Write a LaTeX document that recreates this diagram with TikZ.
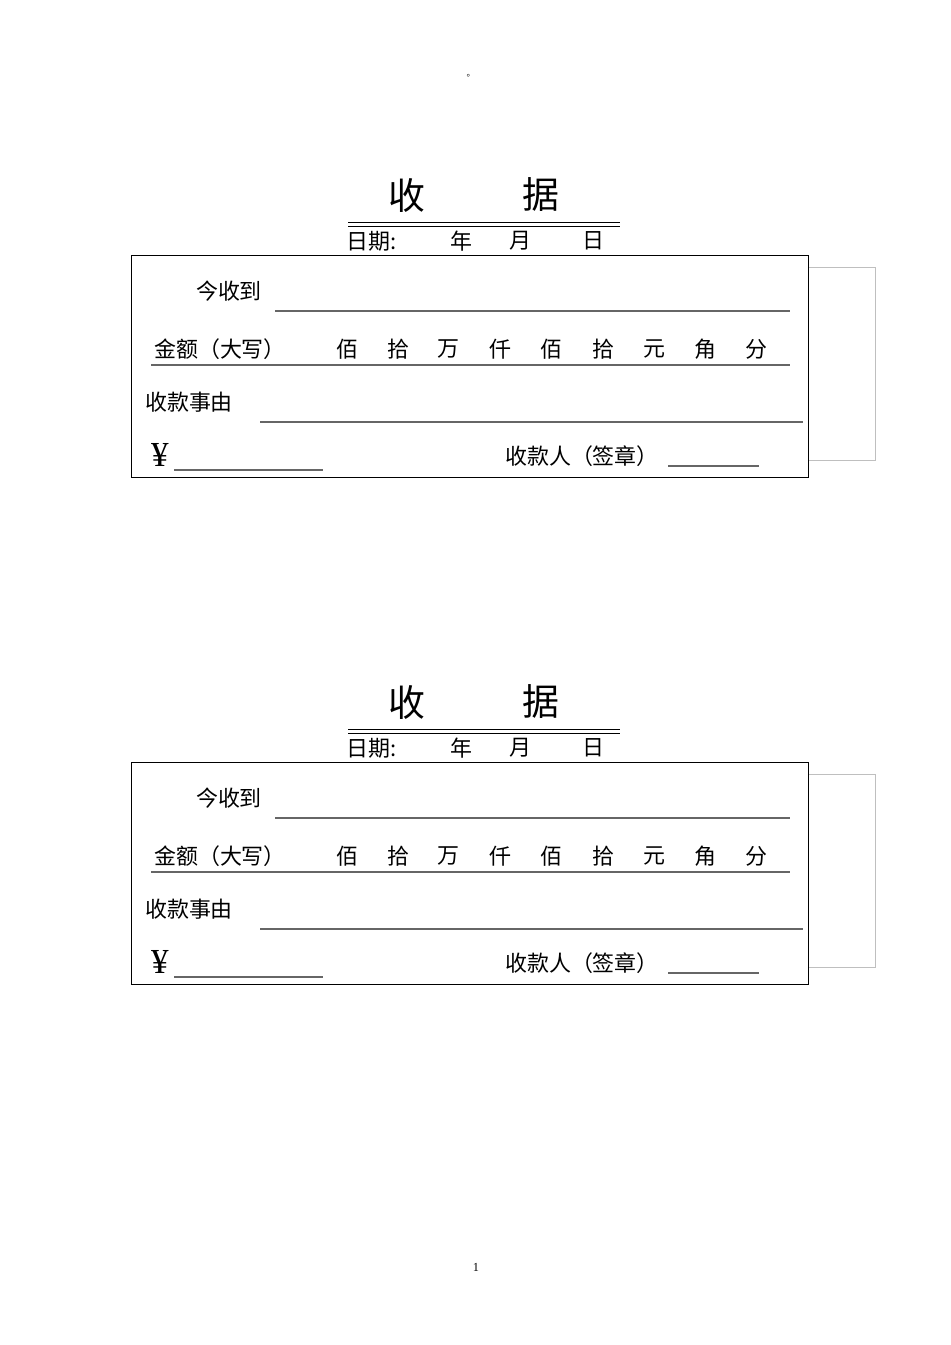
\documentclass[tikz,border=0pt]{standalone}
\usepackage{fontspec}
\setmainfont{Liberation Serif}
\newfontfamily\cjk{Noto Sans CJK SC}
\usetikzlibrary{positioning}
\tikzset{
  txt/.style={inner sep=0pt, font=\cjk\fontsize{12.5}{12.5}\selectfont},
  titel/.style={inner sep=0pt, font=\cjk\fontsize{21}{21}\selectfont},
  fillline/.style={draw=black!60, line width=0.7pt}
}
\begin{document}
\begin{tikzpicture}[x=0.02cm,y=-0.02cm]
\useasboundingbox (0,0) rectangle (950,1345);
\node[inner sep=0pt, font=\cjk\tiny] (dot) at (471,76) {。};
\node[inner sep=0pt, font=\scriptsize] (pnum) at (476,1267) {1};

\foreach \dy in {0,507} %zwei quittungen
{
\begin{scope}[yshift=-\dy*0.02cm]
\node[titel] (shou) at (407,195) {收};
\node[titel] (ju) at (541,195) {据};
\draw (348,222) -- (620,222);
\draw (348,226) -- (620,226);
\node[txt] (riqi) at (372,241) {日期:};
\node[txt] (nian) at (461,241) {年};
\node[txt] (yue) at (520,241) {月};
\node[txt] (ri) at (593,241) {日};

\draw[black!25] (802,267) rectangle (875,460);
\draw[fill=white] (131,255) rectangle (808,477);

\node[txt] (jin) at (229,291) {今收到};
\draw[fillline] (275,311) -- (790,311);

\node[txt] (jine) at (220,349) {金额（大写）};
\foreach \u/\x in {佰/347,拾/398,万/448,仟/500,佰/551,拾/603,元/654,角/705,分/756}
  \node[txt] (unit\x) at (\x,349) {\u};
\draw[fillline] (151,365) -- (790,365);

\node[txt] (grund) at (189,402) {收款事由};
\draw[fillline] (260,422) -- (803,422);

\node[inner sep=0pt, font=\fontsize{20}{20}\selectfont] (yen) at (160,455) {¥};
\draw[fillline] (174,470) -- (323,470);
\node[txt] (empf) at (582,456) {收款人（签章）};
\draw[fillline] (668,466) -- (759,466);
\end{scope}
}
\end{tikzpicture}
\end{document}
